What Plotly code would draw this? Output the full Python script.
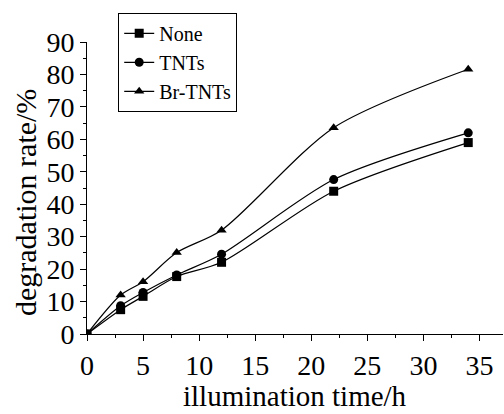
import plotly.graph_objects as go

time_h = [0, 3, 5, 8, 12, 22, 34]
none_vals = [0, 7.5, 11.6, 17.7, 22.1, 44.0, 59.0]
tnts_vals = [0, 8.7, 12.8, 18.2, 24.6, 47.6, 62.0]
br_tnts_vals = [0, 12.0, 16.1, 25.1, 32.0, 63.6, 81.6]

x_ticks = [0, 5, 10, 15, 20, 25, 30, 35]
y_ticks = [0, 10, 20, 30, 40, 50, 60, 70, 80, 90]

series = [
    ("None", none_vals, "square"),
    ("TNTs", tnts_vals, "circle"),
    ("Br-TNTs", br_tnts_vals, "triangle-up"),
]

font_family = "Liberation Serif"

fig = go.Figure()
for name, vals, sym in series:
    fig.add_trace(go.Scatter(
        x=time_h, y=vals, name=name, mode="lines+markers",
        line=dict(color="black", width=1.2, shape="spline", smoothing=0.8),
        marker=dict(symbol=sym, size=9, color="black"),
    ))

fig.update_layout(
    width=504, height=414,
    margin=dict(l=87, r=1, t=42, b=80),
    paper_bgcolor="white", plot_bgcolor="white",
    font=dict(family=font_family, color="black"),
    showlegend=True,
    legend=dict(
        x=0.075, y=1.10, xanchor="left", yanchor="top",
        bordercolor="black", borderwidth=1, bgcolor="white",
        font=dict(size=20, family=font_family),
        tracegroupgap=0, itemwidth=30,
    ),
    xaxis=dict(
        range=[0, 37.1], tickvals=x_ticks,
        showline=True, linecolor="black", linewidth=1,
        ticks="outside", ticklen=6, tickcolor="black",
        minor=dict(tickvals=[2.5, 7.5, 12.5, 17.5, 22.5, 27.5, 32.5], ticks="outside", ticklen=3, tickcolor="black"),
        showgrid=False, zeroline=False,
        tickfont=dict(size=28, family=font_family),
    ),
    yaxis=dict(
        range=[0, 90], tickvals=y_ticks,
        showline=True, linecolor="black", linewidth=1,
        ticks="outside", ticklen=6, tickcolor="black",
        minor=dict(tickvals=[5, 15, 25, 35, 45, 55, 65, 75, 85], ticks="outside", ticklen=3, tickcolor="black"),
        showgrid=False, zeroline=False,
        tickfont=dict(size=28, family=font_family),
    ),
    annotations=[
        dict(text="illumination time/h", xref="paper", yref="paper",
             x=0.5, y=-0.212, xanchor="center", yanchor="middle",
             showarrow=False, font=dict(size=29, family=font_family)),
        dict(text="degradation rate/%", xref="paper", yref="paper",
             x=-0.148, y=0.45, xanchor="center", yanchor="middle", textangle=-90,
             showarrow=False, font=dict(size=30, family=font_family)),
    ],
)

fig.write_html("out.html")
